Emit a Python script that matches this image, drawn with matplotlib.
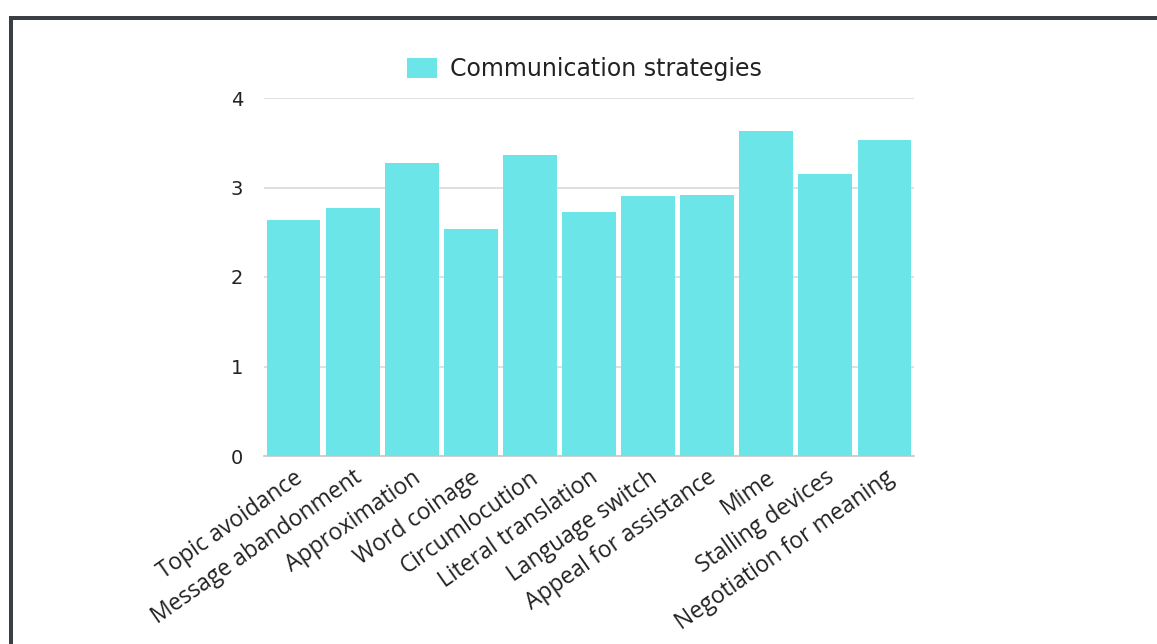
import matplotlib
matplotlib.use("Agg")
import matplotlib.pyplot as plt
from matplotlib.patches import Rectangle

# Mean scores per communication strategy
strategies = [
    "Topic avoidance", "Message abandonment", "Approximation", "Word coinage",
    "Circumlocution", "Literal translation", "Language switch",
    "Appeal for assistance", "Mime", "Stalling devices",
    "Negotiation for meaning",
]
scores = [2.64, 2.77, 3.27, 2.54, 3.36, 2.73, 2.91, 2.92, 3.63, 3.15, 3.53]
yticks = [0, 1, 2, 3, 4]

BAR = "#6ce5e8"
TXT = "#222222"

plt.rcParams["font.family"] = ["Open Sans", "DejaVu Sans"]

fig = plt.figure(figsize=(11.57, 6.44), dpi=100)
fig.patch.set_facecolor("white")

# dark frame on the top and left edge
fig.add_artist(Rectangle((9 / 1157, 0), 4 / 1157, 1 - 16 / 644,
                         transform=fig.transFigure, color="#3b3e42", lw=0))
fig.add_artist(Rectangle((9 / 1157, 1 - 20 / 644), 1 - 9 / 1157, 4 / 644,
                         transform=fig.transFigure, color="#3b3e42", lw=0))

ax = fig.add_axes([264 / 1157, 1 - 456 / 644, 650 / 1157, 358 / 644])
x = range(len(strategies))
ax.bar(x, scores, width=0.91, color=BAR, zorder=3,
       label="Communication strategies")

ax.set_xlim(-0.5, len(strategies) - 0.5)
ax.set_ylim(0, 4)
ax.set_yticks(yticks)
ax.set_yticklabels([str(t) for t in yticks], fontsize=14, color=TXT,
                   family=["DejaVu Sans"])
ax.set_xticks(list(x))
# anchored at the top-right corner so the rotated text sits right of the tick
ax.set_xticklabels(strategies, rotation=35, ha="right", va="top",
                   rotation_mode="anchor", fontsize=16.5, color=TXT)
ax.tick_params(axis="both", length=0)
ax.tick_params(axis="y", pad=15)
ax.tick_params(axis="x", pad=7)

ax.grid(axis="y", color="#dddddd", linewidth=1.3, zorder=0)
for s in ["top", "right", "left"]:
    ax.spines[s].set_visible(False)
ax.spines["bottom"].set_color("#cccccc")
ax.spines["bottom"].set_linewidth(1.3)

leg = ax.legend(loc="center", bbox_to_anchor=(0.493, 1 + 29 / 358),
                frameon=False, prop={"family": "DejaVu Sans", "size": 17},
                handlelength=1.3, handleheight=0.9, handletextpad=0.55)
for t in leg.get_texts():
    t.set_color(TXT)

fig.savefig("out.png", dpi=100, facecolor="white")
